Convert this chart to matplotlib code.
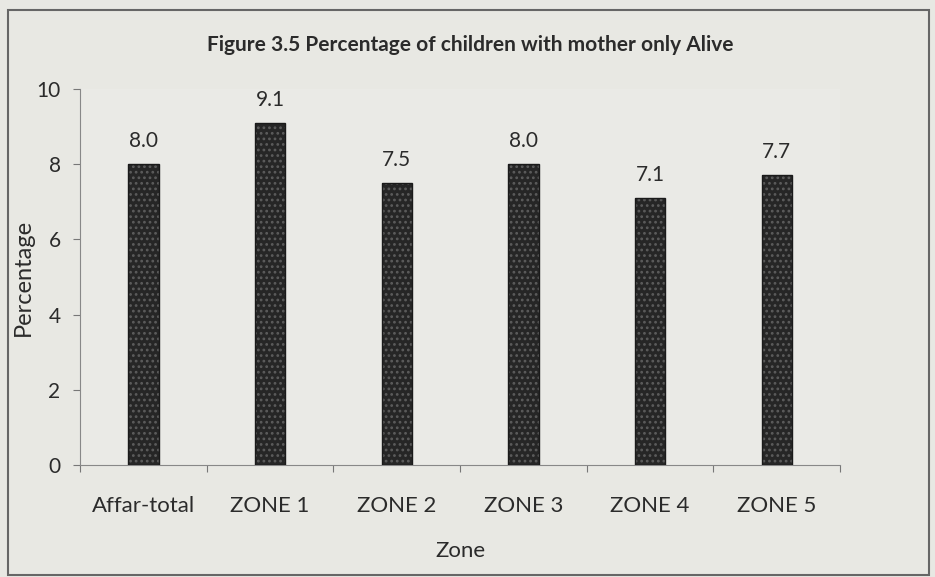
import matplotlib
matplotlib.use("Agg")
from matplotlib import pyplot as plt
from matplotlib.patches import Rectangle

zones = ["Affar-total", "ZONE 1", "ZONE 2", "ZONE 3", "ZONE 4", "ZONE 5"]
mother_only_alive = [8.0, 9.1, 7.5, 8.0, 7.1, 7.7]
y_ticks = [0, 2, 4, 6, 8, 10]

plt.rcParams["font.family"] = ["Lato", "DejaVu Sans"]
plt.rcParams["hatch.linewidth"] = 1.2

fig = plt.figure(figsize=(9.35, 5.77), dpi=100, facecolor="#e8e8e3")
ax = fig.add_axes([0.0856, 0.194, 0.813, 0.652])
ax.set_facecolor("#eaeae6")

positions = range(len(zones))
bars = ax.bar(positions, mother_only_alive, width=0.24, color="#262626",
              edgecolor="#5c5c5c", hatch="...", linewidth=0, zorder=3)
ax.bar(positions, mother_only_alive, width=0.24, color="none",
       edgecolor="#1a1a1a", linewidth=1.0, zorder=4)

for rect, value in zip(bars, mother_only_alive):
    ax.text(rect.get_x() + rect.get_width() / 2, value + 0.35, f"{value:.1f}",
            ha="center", va="bottom", fontsize=15, color="#2b2b2b")

ax.set_xlim(-0.5, len(zones) - 0.5)
ax.set_ylim(0, 10)
ax.set_yticks(y_ticks)
ax.set_xticks([p + 0.5 for p in range(-1, len(zones))], minor=False)
ax.set_xticklabels([])
ax.set_xticks(list(positions), minor=True)
ax.set_xticklabels(zones, minor=True, fontsize=16, color="#2b2b2b")
ax.tick_params(axis="x", which="minor", length=0, pad=22)
ax.tick_params(axis="x", which="major", length=5, color="#777777", direction="out")
ax.tick_params(axis="y", length=5, color="#777777", labelsize=15,
               labelcolor="#2b2b2b", pad=9)

for side in ["top", "right"]:
    ax.spines[side].set_visible(False)
for side in ["left", "bottom"]:
    ax.spines[side].set_color("#888888")

ax.set_ylabel("Percentage", fontsize=17, color="#2b2b2b", labelpad=2)
ax.set_xlabel("Zone", fontsize=16, color="#2b2b2b", labelpad=18)
fig.text(0.503, 0.922, "Figure 3.5 Percentage of children with mother only Alive",
         ha="center", va="center", fontsize=15, fontweight="bold", color="#2b2b2b")

fig.patches.append(Rectangle((0.009, 0.004), 0.985, 0.978, transform=fig.transFigure,
                             fill=False, edgecolor="#666666", linewidth=1.5))

fig.savefig("out.png", dpi=100, facecolor=fig.get_facecolor())
